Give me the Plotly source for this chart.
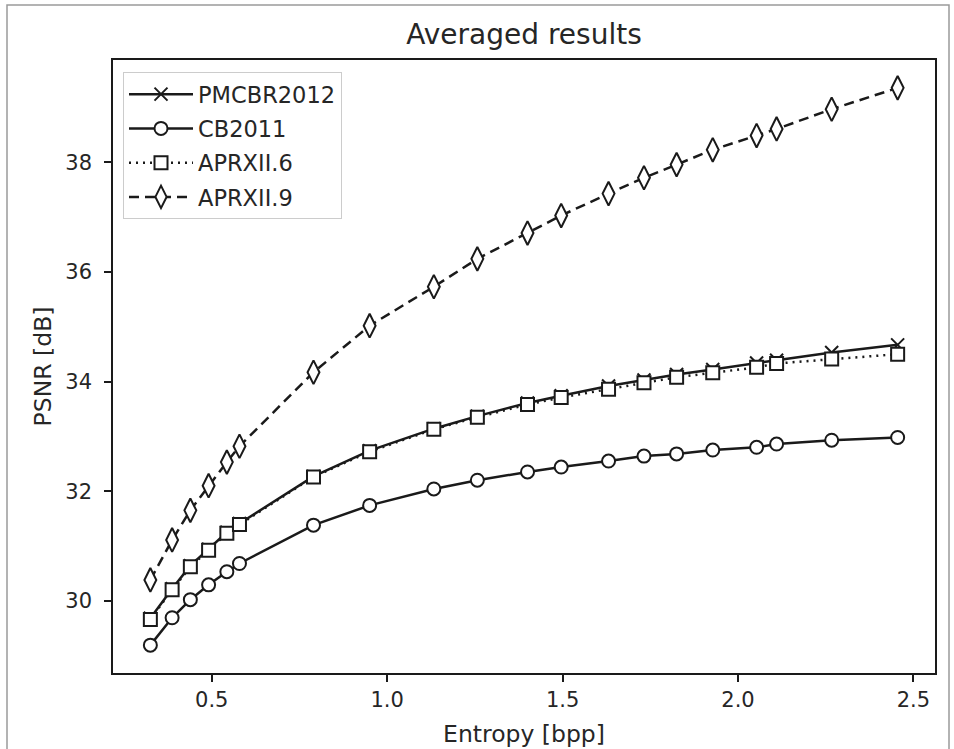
import plotly.graph_objects as go

entropy = [0.325, 0.387, 0.439, 0.491, 0.543, 0.579, 0.790, 0.950, 1.133, 1.257,
           1.400, 1.496, 1.631, 1.732, 1.825, 1.928, 2.053, 2.110, 2.267, 2.455]

pmcbr2012 = [29.68, 30.22, 30.64, 30.94, 31.25, 31.41, 32.27, 32.74, 33.14, 33.37,
             33.61, 33.74, 33.92, 34.03, 34.13, 34.22, 34.34, 34.39, 34.53, 34.67]
cb2011 = [29.19, 29.69, 30.02, 30.29, 30.53, 30.68, 31.38, 31.74, 32.04, 32.20,
          32.35, 32.44, 32.55, 32.64, 32.68, 32.75, 32.80, 32.86, 32.93, 32.98]
aprxii6 = [29.66, 30.20, 30.62, 30.92, 31.23, 31.39, 32.26, 32.72, 33.13, 33.35,
           33.58, 33.71, 33.86, 33.98, 34.08, 34.16, 34.26, 34.33, 34.41, 34.50]
aprxii9 = [30.38, 31.11, 31.65, 32.10, 32.53, 32.82, 34.17, 35.02, 35.73, 36.24,
           36.71, 37.03, 37.43, 37.72, 37.96, 38.23, 38.49, 38.61, 38.97, 39.36]

x_ticks = [0.5, 1.0, 1.5, 2.0, 2.5]
y_ticks = [30, 32, 34, 36, 38]

FONT = "DejaVu Sans"
TXT = "#262626"
INK = "#1a1a1a"

fig = go.Figure()

series = [
    ("PMCBR2012", pmcbr2012, "solid", dict(symbol="x-thin", size=13, color=INK,
                                          line=dict(color=INK, width=2))),
    ("CB2011", cb2011, "solid", dict(symbol="circle", size=13, color="white",
                                    line=dict(color=INK, width=2))),
    ("APRXII.6", aprxii6, "2px,5px", dict(symbol="square", size=13, color="white",
                                       line=dict(color=INK, width=2))),
    ("APRXII.9", aprxii9, "10px,6px", dict(symbol="diamond-tall", size=17, color="white",
                                        line=dict(color=INK, width=2))),
]

for i, (name, ys, dash, marker) in enumerate(series):
    fig.add_trace(go.Scatter(
        x=entropy, y=ys, name=name, mode="lines+markers",
        line=dict(color=INK, width=2.5, dash=dash),
        marker=marker, legendgroup=f"g{i}",
    ))

xmin, xmax = min(entropy), max(entropy)
xs = xmax - xmin
all_y = pmcbr2012 + cb2011 + aprxii6 + aprxii9
ymin, ymax = min(all_y), max(all_y)
ysp = ymax - ymin

L, R, T, B = 113, 19, 60, 76
W, H = 954, 749
pw, ph = W - L - R, H - T - B

fig.update_layout(
    width=W, height=H,
    margin=dict(l=L, r=R, t=T, b=B, autoexpand=False),
    paper_bgcolor="white", plot_bgcolor="white",
    font=dict(family=FONT, size=20, color=TXT),
    title=dict(text="Averaged results", x=0.5, xref="paper", xanchor="center",
               y=1 - 34 / H, yanchor="middle", font=dict(size=28, color=TXT)),
    showlegend=True,
    legend=dict(x=(123 - L) / pw, y=(H - B - 72) / ph, xanchor="left", yanchor="top",
                bgcolor="white", bordercolor="#cccccc", borderwidth=1,
                font=dict(size=22.5, color=TXT), traceorder="grouped",
                tracegroupgap=2, itemwidth=64),
    xaxis=dict(range=[xmin - 0.05 * xs, xmax + 0.05 * xs], automargin=False,
               tickvals=x_ticks, ticktext=[f"{v:.1f}" for v in x_ticks],
               ticks="outside", ticklen=7, tickwidth=1.5, tickcolor=INK,
               showline=True, linecolor=INK, linewidth=1.5, mirror=True,
               showgrid=False, zeroline=False,
               title=dict(text="Entropy [bpp]", standoff=15, font=dict(size=23.5)),
               tickfont=dict(size=21, color=TXT)),
    yaxis=dict(range=[ymin - 0.05 * ysp, ymax + 0.05 * ysp], automargin=False,
               tickvals=y_ticks, ticktext=[str(v) for v in y_ticks],
               ticks="outside", ticklen=7, tickwidth=1.5, tickcolor=INK,
               ticklabelstandoff=8,
               showline=True, linecolor=INK, linewidth=1.5, mirror=True,
               showgrid=False, zeroline=False,
               title=dict(text="PSNR [dB]", standoff=7, font=dict(size=23.5)),
               tickfont=dict(size=21, color=TXT)),
)

# outer figure border
fig.add_shape(type="rect", xref="paper", yref="paper",
              x0=(7 - L) / pw, x1=(949 - L) / pw,
              y0=(H - B - 760) / ph, y1=(H - B - 5) / ph,
              line=dict(color="#9a9a9a", width=1.5), fillcolor="rgba(0,0,0,0)",
              layer="below")

fig.write_html("out.html", config={"displayModeBar": False},
               post_script="document.body.style.margin='0';")
